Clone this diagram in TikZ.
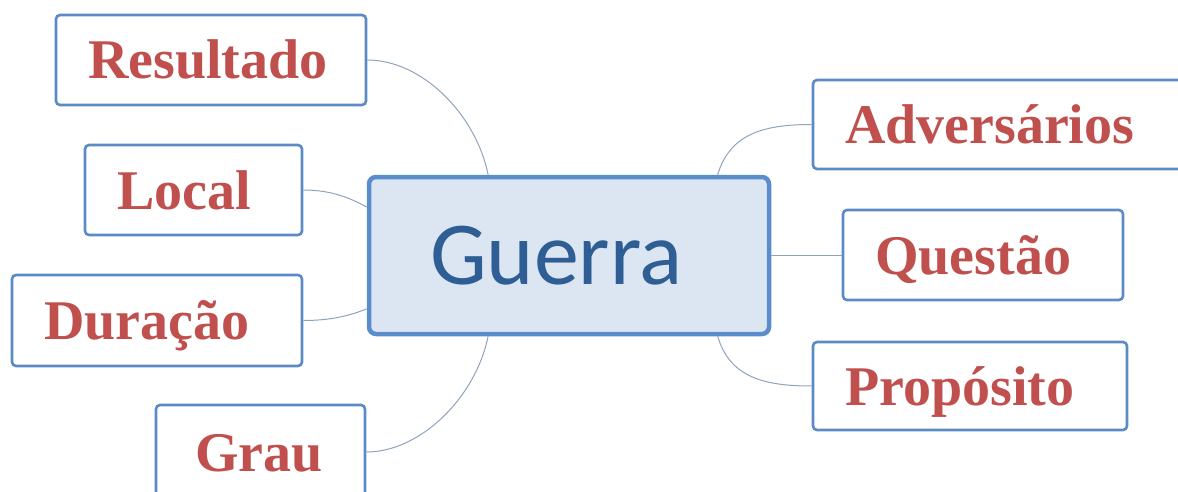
\documentclass[tikz,border=0pt]{standalone}
\usepackage{fontspec}
\setmainfont{Liberation Serif}
\newfontfamily\hubfont{Carlito}
\usetikzlibrary{calc}

\definecolor{leafred}{HTML}{C0504D}
\definecolor{leafedge}{HTML}{5B8AC6}
\definecolor{hubedge}{HTML}{5B8CCB}
\definecolor{hubfill}{HTML}{DCE6F2}
\definecolor{hubtext}{HTML}{2F5E94}
\definecolor{linkgrey}{HTML}{8FA3BB}

\tikzset{
  leaf/.style={draw=leafedge, line width=2.6pt, rounded corners=4pt, fill=white,
    font=\bfseries\fontsize{56}{60}\selectfont, text=leafred,
    align=left, inner xsep=32pt, inner ysep=0pt,
    text height=38pt, text depth=0pt},
  hub/.style={draw=hubedge, line width=4.5pt, rounded corners=7pt, fill=hubfill,
    font=\hubfont\fontsize{90}{100}\selectfont, text=hubtext,
    align=left, inner xsep=61pt, inner ysep=0pt,
    text height=57pt, text depth=0pt,
    text width=278pt, minimum height=157pt},
  link/.style={draw=linkgrey, line width=1pt}
}

\begin{document}
\begin{tikzpicture}[x=1pt,y=1pt]
\useasboundingbox (0,0) rectangle (1178,-492);
\clip (0,0) rectangle (1178,-492);

% central topic
\node[hub] (guerra) at (569,-255.5) {Guerra};

% left branches
\node[leaf, text width=246pt, minimum height=90pt] (res) at (211,-60) {Resultado};
\node[leaf, text width=153pt, minimum height=90pt] (loc) at (193.5,-190) {Local};
\node[leaf, text width=226pt, minimum height=91pt] (dur) at (157,-320.5) {Duração};
\node[leaf, inner xsep=39pt, text width=131pt, minimum height=94pt] (grau) at (260.5,-452) {Grau};

% right branches
\node[leaf, text width=313pt, minimum height=89pt] (adv) at (1001.5,-124.5) {Adversários};
\node[leaf, text width=216pt, minimum height=90pt] (que) at (983,-255) {Questão};
\node[leaf, text width=250pt, minimum height=88pt] (pro) at (970,-386) {Propósito};

% connectors
\draw[link] (res.east) .. controls +(55,0) and +(-12,60) ..
  ($(guerra.north west)!0.3!(guerra.north east)$);
\draw[link] (loc.east) .. controls +(30,0) and +(-15,8) ..
  ($(guerra.north west)!0.2!(guerra.south west)$);
\draw[link] (dur.east) .. controls +(30,0) and +(-15,-6) ..
  ($(guerra.north west)!0.83!(guerra.south west)$);
\draw[link] (grau.east) .. controls +(55,0) and +(-12,-60) ..
  ($(guerra.south west)!0.3!(guerra.south east)$);
\draw[link] (adv.west) .. controls +(-50,0) and +(12,40) ..
  ($(guerra.north west)!0.8675!(guerra.north east)$);
\draw[link] (pro.west) .. controls +(-50,0) and +(12,-40) ..
  ($(guerra.south west)!0.8675!(guerra.south east)$);
\draw[link] (guerra.east) -- (guerra.east -| que.west);
\end{tikzpicture}
\end{document}
